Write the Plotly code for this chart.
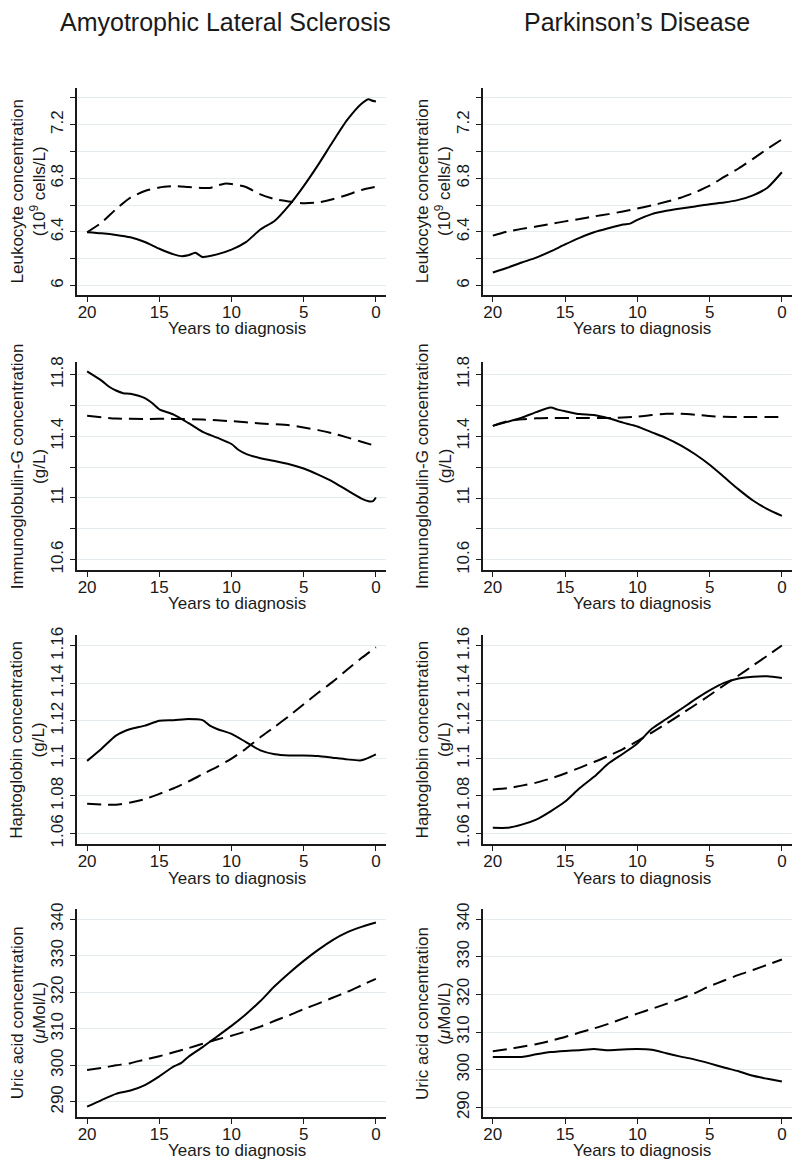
import plotly.graph_objects as go
from plotly.subplots import make_subplots

# ---------------- data ----------------
col_titles = ["Amyotrophic Lateral Sclerosis", "Parkinson\u2019s Disease"]
y_titles = [
    "Leukocyte concentration<br>(10<sup>9</sup> cells/L)",
    "Immunoglobulin-G concentration<br>(g/L)",
    "Haptoglobin concentration<br>(g/L)",
    "Uric acid concentration<br>(<i>\u03bc</i>Mol/L)",
]
x_title = "Years to diagnosis"
years = [20, 19, 18, 17, 16, 15, 14, 13, 12, 11, 10, 9, 8, 7, 6, 5, 4, 3, 2, 1, 0]

# Leukocyte
als_leuk_case_x = [20, 19, 18, 17, 16, 15, 14, 13.5, 13, 12.5, 12.2, 12, 11, 10, 9, 8, 7, 6, 5, 4, 3, 2, 1, 0.5, 0.3, 0]
als_leuk_case_y = [6.398, 6.39, 6.378, 6.36, 6.325, 6.275, 6.233, 6.22, 6.226, 6.245, 6.225, 6.214, 6.233, 6.268,
                   6.324, 6.418, 6.484, 6.60, 6.742, 6.90, 7.07, 7.233, 7.356, 7.39, 7.38, 7.373]
als_leuk_ctrl_x = [20, 19, 18, 17, 16, 15, 14, 13, 12, 11.5, 11, 10.5, 10, 9, 8, 7, 6, 5, 4, 3, 2, 1, 0]
als_leuk_ctrl_y = [6.398, 6.47, 6.57, 6.656, 6.705, 6.732, 6.742, 6.735, 6.728, 6.728, 6.745, 6.76, 6.758, 6.735,
                   6.68, 6.644, 6.627, 6.614, 6.62, 6.644, 6.676, 6.713, 6.737]
pd_leuk_case_x = [20, 19, 18, 17, 16, 15, 14, 13, 12, 11, 10.5, 10, 9, 8, 7, 6, 5, 4, 3, 2, 1, 0]
pd_leuk_case_y = [6.098, 6.133, 6.172, 6.209, 6.255, 6.307, 6.356, 6.398, 6.428, 6.455, 6.462, 6.49, 6.533, 6.558,
                  6.575, 6.59, 6.607, 6.619, 6.639, 6.673, 6.73, 6.845]
pd_leuk_ctrl_x = years
pd_leuk_ctrl_y = [6.373, 6.403, 6.423, 6.44, 6.46, 6.479, 6.496, 6.516, 6.533, 6.553, 6.575, 6.598, 6.625, 6.655,
                  6.695, 6.745, 6.81, 6.873, 6.945, 7.02, 7.09]

# Immunoglobulin-G
als_igg_case_x = [20, 19, 18.5, 18, 17.5, 17, 16, 15.5, 15, 14, 13, 12, 11, 10, 9.5, 9, 8, 7, 6, 5, 4, 3, 2, 1, 0.5, 0.2, 0]
als_igg_case_y = [11.821, 11.761, 11.723, 11.697, 11.68, 11.676, 11.648, 11.616, 11.575, 11.541, 11.487, 11.429,
                  11.391, 11.35, 11.311, 11.286, 11.258, 11.239, 11.219, 11.191, 11.151, 11.106, 11.05, 10.996,
                  10.979, 10.979, 11.003]
als_igg_ctrl_x = [20, 18, 16, 14, 12, 10, 8, 6, 5, 4, 3, 2, 1, 0]
als_igg_ctrl_y = [11.534, 11.515, 11.513, 11.513, 11.509, 11.498, 11.483, 11.472, 11.457, 11.44, 11.419, 11.393,
                  11.365, 11.337]
pd_igg_case_x = [20, 19, 18, 17, 16, 15.5, 15, 14, 13, 12, 11, 10, 9, 8, 7, 6, 5, 4, 3, 2, 1, 0]
pd_igg_case_y = [11.467, 11.493, 11.52, 11.556, 11.585, 11.572, 11.562, 11.543, 11.537, 11.516, 11.488, 11.463,
                 11.425, 11.388, 11.341, 11.283, 11.215, 11.136, 11.056, 10.984, 10.928, 10.884]
pd_igg_ctrl_x = [20, 19, 18, 17, 16, 14, 12, 10, 9, 8, 7, 6, 5, 4, 3, 0]
pd_igg_ctrl_y = [11.467, 11.497, 11.509, 11.516, 11.518, 11.518, 11.518, 11.526, 11.537, 11.545, 11.545, 11.539,
                 11.53, 11.526, 11.524, 11.524]

# Haptoglobin
als_hap_case_x = [20, 19, 18, 17, 16, 15, 14, 13, 12, 11.5, 11, 10, 9, 8, 7, 6, 5, 4, 3, 2, 1, 0]
als_hap_case_y = [1.0987, 1.1052, 1.1122, 1.1157, 1.1175, 1.1201, 1.1204, 1.121, 1.1204, 1.1175, 1.1157, 1.1131,
                  1.1087, 1.1043, 1.1022, 1.1016, 1.1016, 1.1013, 1.1004, 1.0995, 1.099, 1.1022]
als_hap_ctrl_x = years
als_hap_ctrl_y = [1.0758, 1.0755, 1.0753, 1.0765, 1.0783, 1.0811, 1.0841, 1.0876, 1.0916, 1.0955, 1.0999, 1.1052,
                  1.1113, 1.1169, 1.1227, 1.1289, 1.135, 1.1408, 1.1473, 1.1535, 1.1593]
pd_hap_case_x = years
pd_hap_case_y = [1.063, 1.063, 1.0647, 1.0674, 1.0718, 1.077, 1.0841, 1.0902, 1.0973, 1.1025, 1.108, 1.1158, 1.121,
                 1.1262, 1.1315, 1.1363, 1.1403, 1.1426, 1.1436, 1.1438, 1.1429]
pd_hap_ctrl_x = years
pd_hap_ctrl_y = [1.0835, 1.0841, 1.0855, 1.0871, 1.0893, 1.092, 1.095, 1.0981, 1.1013, 1.105, 1.1092, 1.1138,
                 1.1185, 1.1235, 1.1285, 1.1337, 1.139, 1.1442, 1.1495, 1.1548, 1.1602]

# Uric acid
als_uric_case_x = [20, 19, 18, 17, 16, 15, 14, 13.5, 13, 12, 11, 10, 9, 8, 7, 6, 5, 4, 3, 2, 1, 0]
als_uric_case_y = [288.7, 290.5, 292.2, 293.1, 294.6, 297, 299.7, 300.6, 302.3, 305, 307.9, 310.8, 314, 317.6,
                   321.7, 325.3, 328.6, 331.6, 334.3, 336.4, 337.9, 339.1]
als_uric_ctrl_x = years
als_uric_ctrl_y = [298.7, 299.3, 300, 300.6, 301.6, 302.5, 303.6, 304.7, 305.9, 307.1, 308.1, 309.3, 310.6, 312.2,
                   313.7, 315.4, 316.9, 318.5, 320.1, 321.9, 323.7]
pd_uric_case_x = years
pd_uric_case_y = [303.4, 303.4, 303.4, 304.1, 304.7, 305, 305.2, 305.5, 305.2, 305.4, 305.5, 305.3, 304.4, 303.5,
                  302.7, 301.7, 300.6, 299.6, 298.4, 297.6, 296.9]
pd_uric_ctrl_x = years
pd_uric_ctrl_y = [304.9, 305.5, 306.1, 306.8, 307.7, 308.7, 309.9, 311, 312.2, 313.6, 314.9, 316.2, 317.5, 318.9,
                  320.4, 322.2, 323.7, 325.2, 326.5, 327.9, 329.3]

# tick values / labels per row
y_tickvals = [
    [6, 6.2, 6.4, 6.6, 6.8, 7.0, 7.2, 7.4],
    [10.6, 10.8, 11.0, 11.2, 11.4, 11.6, 11.8],
    [1.06, 1.08, 1.10, 1.12, 1.14, 1.16],
    [290, 300, 310, 320, 330, 340],
]
y_ticktext = [
    ["6", " ", "6.4", " ", "6.8", " ", "7.2", " "],
    ["10.6", " ", "11", " ", "11.4", " ", "11.8"],
    ["1.06", "1.08", "1.1", "1.12", "1.14", "1.16"],
    ["290", "300", "310", "320", "330", "340"],
]
x_tickvals = [20, 15, 10, 5, 0]

panels = [
    [(als_leuk_case_x, als_leuk_case_y, als_leuk_ctrl_x, als_leuk_ctrl_y),
     (pd_leuk_case_x, pd_leuk_case_y, pd_leuk_ctrl_x, pd_leuk_ctrl_y)],
    [(als_igg_case_x, als_igg_case_y, als_igg_ctrl_x, als_igg_ctrl_y),
     (pd_igg_case_x, pd_igg_case_y, pd_igg_ctrl_x, pd_igg_ctrl_y)],
    [(als_hap_case_x, als_hap_case_y, als_hap_ctrl_x, als_hap_ctrl_y),
     (pd_hap_case_x, pd_hap_case_y, pd_hap_ctrl_x, pd_hap_ctrl_y)],
    [(als_uric_case_x, als_uric_case_y, als_uric_ctrl_x, als_uric_ctrl_y),
     (pd_uric_case_x, pd_uric_case_y, pd_uric_ctrl_x, pd_uric_ctrl_y)],
]

# ---------------- layout geometry (pixels) ----------------
W, H = 800, 1172
row_px = [(80.7, 290.0), (358.0, 568.0), (633.5, 845.0), (910.7, 1120.7)]
col_px = [(77.0, 386.0), (482.7, 792.0)]
col_title_cx = [226, 637]
y_ranges = [
    [[5.93, 7.474], [5.93, 7.474]],
    [[10.531, 11.88], [10.533, 11.878]],
    [[1.0542, 1.1658], [1.0542, 1.1658]],
    [[285.8, 342.7], [287.4, 342.6]],
]

FONT = "Liberation Sans, Arial, Helvetica, sans-serif"
INK = "#1a1a1a"
GRID = "#e4ecf0"

fig = make_subplots(rows=4, cols=2)

for r in range(4):
    for c in range(2):
        cx, cy, dx, dy = panels[r][c]
        fig.add_trace(go.Scatter(x=cx, y=cy, mode="lines", line=dict(color="black", width=2, shape="spline", smoothing=0.6),
                                 showlegend=False, hoverinfo="skip"), row=r + 1, col=c + 1)
        fig.add_trace(go.Scatter(x=dx, y=dy, mode="lines",
                                 line=dict(color="black", width=2, dash="14px,7px", shape="spline", smoothing=0.6),
                                 showlegend=False, hoverinfo="skip"), row=r + 1, col=c + 1)
        n = r * 2 + c + 1
        xa = "xaxis" if n == 1 else f"xaxis{n}"
        ya = "yaxis" if n == 1 else f"yaxis{n}"
        x0, x1 = col_px[c]
        y0, y1 = row_px[r]
        fig.layout[xa].update(
            domain=[x0 / W, x1 / W], range=[20.7, -0.7], tickvals=x_tickvals,
            showgrid=False, zeroline=False, showline=True, linecolor=INK, linewidth=1.5,
            ticks="outside", ticklen=5, tickcolor=INK, tickwidth=1.2, ticklabelstandoff=-4,
            tickfont=dict(family=FONT, size=17, color=INK),
        )
        fig.layout[ya].update(
            domain=[1 - y1 / H, 1 - y0 / H], range=y_ranges[r][c],
            tickvals=y_tickvals[r], ticktext=y_ticktext[r], tickangle=-90,
            showgrid=True, gridcolor=GRID, gridwidth=1.2, zeroline=False,
            showline=True, linecolor=INK, linewidth=1.5,
            ticks="outside", ticklen=5, tickcolor=INK, tickwidth=1.2,
            tickfont=dict(family=FONT, size=17, color=INK),
        )
        # y title
        fig.add_annotation(x=(x0 - 49) / W, y=1 - (y0 + y1) / 2 / H, xref="paper", yref="paper",
                           text=y_titles[r], textangle=-90, showarrow=False, xanchor="center", yanchor="middle",
                           font=dict(family=FONT, size=17, color=INK))
        # x title
        fig.add_annotation(x=((x0 + x1) / 2 + 5) / W, y=1 - (y1 + 34) / H, xref="paper", yref="paper",
                           text=x_title, showarrow=False, xanchor="center", yanchor="middle",
                           font=dict(family=FONT, size=17, color=INK))

for c in range(2):
    fig.add_annotation(x=col_title_cx[c] / W, y=1 - 14 / H, xref="paper", yref="paper",
                       text=col_titles[c], showarrow=False, xanchor="center", yanchor="middle",
                       font=dict(family=FONT, size=25, color=INK))

fig.update_layout(width=W, height=H, margin=dict(l=0, r=0, t=0, b=0),
                  paper_bgcolor="white", plot_bgcolor="white", showlegend=False)

fig.write_html("out.html", config={"displayModeBar": False},
               post_script="document.body.style.margin='0px';document.body.style.padding='0px';")
